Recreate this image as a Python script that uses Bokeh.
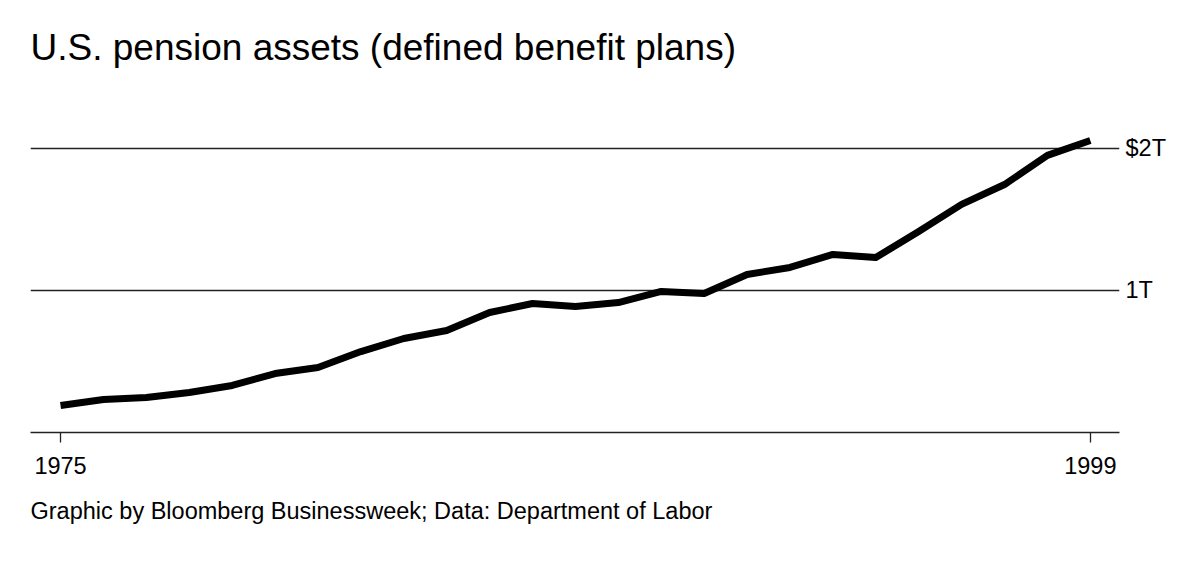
from bokeh.plotting import figure
from bokeh.models import Range1d, FixedTicker, Title
from bokeh.embed import file_html
from bokeh.resources import INLINE

# Data (USD trillions)
years = list(range(1975, 2000))
assets = [0.19, 0.232, 0.246, 0.282, 0.331, 0.415, 0.458, 0.570, 0.662, 0.718,
          0.845, 0.908, 0.887, 0.915, 0.993, 0.979, 1.113, 1.162, 1.254, 1.232,
          1.415, 1.606, 1.746, 1.951, 2.056]

x_ticks = [1975, 1999]
x_tick_labels = ["1975", "1999"]
y_ticks = [1, 2]
y_tick_labels = ["1T", "$2T"]

title_text = "U.S. pension assets (defined benefit plans)"
footer_text = "Graphic by Bloomberg Businessweek; Data: Department of Labor"

FONT = "Liberation Sans"

p = figure(width=1184, height=553, output_backend="svg", toolbar_location=None,
           y_axis_location="right",
           x_range=Range1d(1974.30, 1999.68), y_range=Range1d(0, 2.401),
           min_border_left=30, min_border_right=65, min_border_top=0, min_border_bottom=121)
p.outline_line_color = None
p.background_fill_color = "white"
p.border_fill_color = "white"

p.title.text = title_text
p.title.text_font = FONT
p.title.text_font_size = "37px"
p.title.text_font_style = "normal"
p.title.text_color = "#000000"
p.title.align = "left"
p.title.standoff = 48

footer = Title(text=footer_text, text_font=FONT, text_font_size="23.5px",
               text_font_style="normal", text_color="#000000", align="left", standoff=38)
p.add_layout(footer, "below")

# x axis
xa = p.xaxis[0]
xa.ticker = FixedTicker(ticks=x_ticks)
xa.major_label_overrides = {t: s for t, s in zip(x_ticks, x_tick_labels)}
xa.axis_line_color = "#222222"
xa.axis_line_width = 1.5
xa.major_tick_line_color = "#222222"
xa.major_tick_line_width = 1.3
xa.major_tick_in = 0
xa.major_tick_out = 10
xa.minor_tick_line_color = None
xa.major_label_standoff = 14
xa.major_label_text_font = FONT
xa.major_label_text_font_size = "23.5px"
xa.major_label_text_color = "#000000"

# y axis (right)
ya = p.yaxis[0]
ya.ticker = FixedTicker(ticks=y_ticks)
ya.major_label_overrides = {t: s for t, s in zip(y_ticks, y_tick_labels)}
ya.axis_line_color = None
ya.major_tick_line_color = None
ya.minor_tick_line_color = None
ya.major_label_standoff = 0
ya.major_label_text_font = FONT
ya.major_label_text_font_size = "23.5px"
ya.major_label_text_color = "#000000"

p.xgrid.grid_line_color = None
p.ygrid.ticker = FixedTicker(ticks=y_ticks)
p.ygrid.grid_line_color = "#222222"
p.ygrid.grid_line_width = 1.3

p.line(years, assets, line_color="#000000", line_width=7, line_join="round")

open("out.html", "w").write(file_html(p, INLINE))
